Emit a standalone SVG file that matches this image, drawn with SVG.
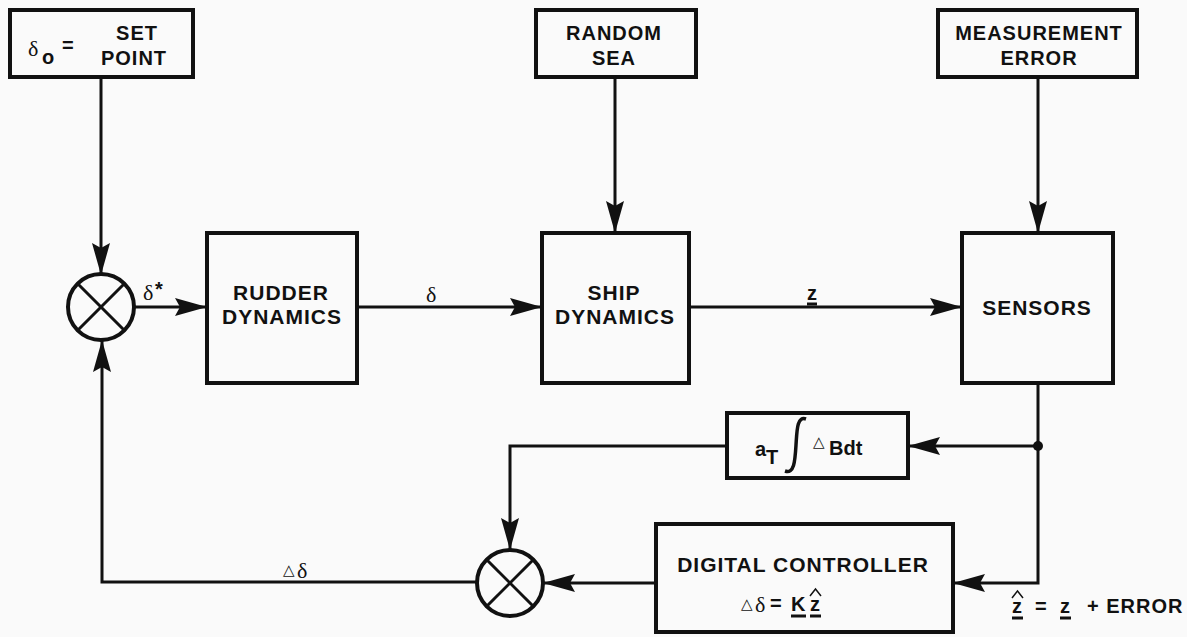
<svg xmlns="http://www.w3.org/2000/svg" width="1187" height="637" viewBox="0 0 1187 637">
<style>
.box{fill:none;stroke:#111;stroke-width:4}
.sum{fill:none;stroke:#111;stroke-width:4}
.x{stroke:#111;stroke-width:3}
.wire{fill:none;stroke:#111;stroke-width:3}
.lbl{font-family:"Liberation Sans",Arial,sans-serif;font-weight:bold;font-size:21px;fill:#111;letter-spacing:1px;text-anchor:middle}
.top{font-size:20px}
.gr{font-family:"Liberation Serif","Times New Roman",serif;font-size:22px;fill:#111}
.sm{font-family:"Liberation Sans",Arial,sans-serif;font-weight:bold;font-size:20px;fill:#111}
.tri{font-family:"DejaVu Sans",sans-serif;font-size:15px;fill:#111}
</style>
<defs>
<marker id="ah" markerUnits="userSpaceOnUse" markerWidth="32" markerHeight="18" refX="31" refY="9" orient="auto">
<path d="M0,0 L32,9 L0,18 L5,9 z" fill="#111"/>
</marker>
</defs>
<rect width="1187" height="637" fill="#fafafa"/>

<g id="setpoint">
<rect class="box" x="10" y="10" width="183" height="67"/>
<text class="gr" x="28" y="56">δ</text>
<text class="sm" x="42" y="64" font-size="17">o</text>
<text class="sm" x="62" y="52" font-size="18">=</text>
<text class="lbl top" x="137" y="40">SET</text>
<text class="lbl top" x="134" y="65">POINT</text>
</g>

<g id="randomsea">
<rect class="box" x="536" y="10" width="160" height="67"/>
<text class="lbl top" x="614" y="40">RANDOM</text>
<text class="lbl top" x="614" y="65">SEA</text>
</g>

<g id="measerror">
<rect class="box" x="938" y="10" width="199" height="67"/>
<text class="lbl top" x="1039" y="40">MEASUREMENT</text>
<text class="lbl top" x="1039" y="65">ERROR</text>
</g>

<g id="sum1">
<circle class="sum" cx="101" cy="307" r="33"/>
<line class="x" x1="78" y1="284" x2="124" y2="330"/>
<line class="x" x1="124" y1="284" x2="78" y2="330"/>
</g>

<g id="rudder">
<rect class="box" x="207" y="233" width="150" height="150"/>
<text class="lbl" x="281" y="300">RUDDER</text>
<text class="lbl" x="282" y="324">DYNAMICS</text>
</g>

<g id="ship">
<rect class="box" x="542" y="233" width="147" height="150"/>
<text class="lbl" x="614" y="300">SHIP</text>
<text class="lbl" x="615" y="324">DYNAMICS</text>
</g>

<g id="sensors">
<rect class="box" x="962" y="233" width="151" height="150"/>
<text class="lbl" x="1037" y="315">SENSORS</text>
</g>

<g id="integrator">
<rect class="box" x="727" y="413" width="181" height="65"/>
<text class="sm" x="755" y="456" font-size="18">a</text>
<text class="sm" x="766" y="464" font-size="16">T</text>
<path d="M806,419 C797,416 797,430 796,445 C795,462 794,474 785,471" fill="none" stroke="#111" stroke-width="3.5"/>
<text class="tri" x="813" y="447">△</text>
<text class="sm" x="829" y="455" font-size="20">Bdt</text>
</g>

<g id="controller">
<rect class="box" x="656" y="524" width="297" height="108"/>
<text class="lbl" x="803" y="572">DIGITAL CONTROLLER</text>
<text class="tri" x="741" y="609">△</text>
<text class="gr" x="755" y="612">δ</text>
<text class="sm" x="770" y="610" font-size="18">=</text>
<text class="sm" x="791" y="611">K</text>
<line class="x" x1="791" y1="616" x2="806" y2="616" stroke-width="2"/>
<text class="sm" x="810" y="611">z</text>
<line class="x" x1="810" y1="616" x2="821" y2="616" stroke-width="2"/>
<path d="M810,596 L815.5,589 L821,596" fill="none" stroke="#111" stroke-width="1.5"/>
</g>

<g id="sum2">
<circle class="sum" cx="510" cy="583" r="33"/>
<line class="x" x1="487" y1="560" x2="533" y2="606"/>
<line class="x" x1="533" y1="560" x2="487" y2="606"/>
</g>

<g id="connectors">
<line class="wire" x1="101" y1="78" x2="101" y2="274" marker-end="url(#ah)"/>
<line class="wire" x1="134" y1="307" x2="206" y2="307" marker-end="url(#ah)"/>
<line class="wire" x1="357" y1="307" x2="541" y2="307" marker-end="url(#ah)"/>
<line class="wire" x1="615" y1="78" x2="615" y2="232" marker-end="url(#ah)"/>
<line class="wire" x1="689" y1="307" x2="961" y2="307" marker-end="url(#ah)"/>
<line class="wire" x1="1038" y1="77" x2="1038" y2="232" marker-end="url(#ah)"/>
<path class="wire" d="M1038,383 V583 H954" marker-end="url(#ah)"/>
<line class="wire" x1="1038" y1="446" x2="909" y2="446" marker-end="url(#ah)"/>
<circle cx="1038" cy="446" r="5" fill="#111"/>
<path class="wire" d="M727,446 H510 V549" marker-end="url(#ah)"/>
<line class="wire" x1="656" y1="583" x2="544" y2="583" marker-end="url(#ah)"/>
<path class="wire" d="M477,582 H102 V341" marker-end="url(#ah)"/>
<text class="gr" x="143" y="300">δ</text>
<text class="sm" x="155" y="296" font-size="16">*</text>
<text class="gr" x="426" y="302">δ</text>
<text class="sm" x="807" y="300" font-size="18">z</text>
<line class="x" x1="807" y1="304" x2="817" y2="304" stroke-width="2"/>
<text class="tri" x="283" y="575">△</text>
<text class="gr" x="297" y="578">δ</text>
<text class="sm" x="1012" y="613">z</text>
<line class="x" x1="1012" y1="618" x2="1023" y2="618" stroke-width="2"/>
<path d="M1012,598 L1017.5,591 L1023,598" fill="none" stroke="#111" stroke-width="1.5"/>
<text class="sm" x="1035" y="613" font-size="18">=</text>
<text class="sm" x="1060" y="613">z</text>
<line class="x" x1="1060" y1="618" x2="1071" y2="618" stroke-width="2"/>
<text class="sm" x="1087" y="613" letter-spacing="1">+ ERROR</text>
</g>
</svg>
